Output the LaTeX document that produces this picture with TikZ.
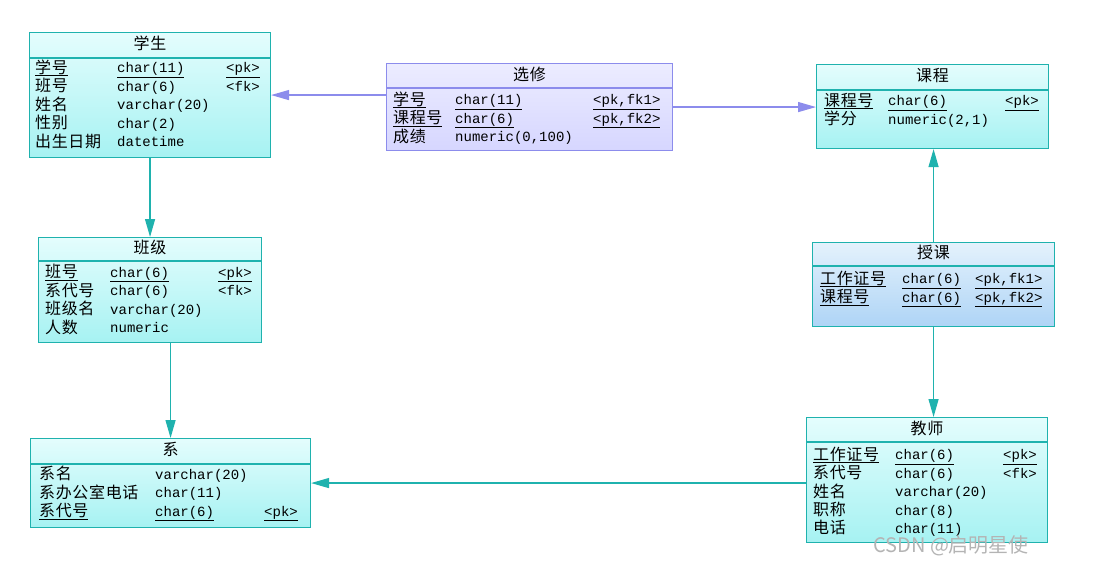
\documentclass[tikz,border=0pt]{standalone}
\usepackage{fontspec}
\setmonofont{Liberation Mono}
\newfontfamily\cjk[LetterSpace=4]{Noto Sans CJK SC}
\newfontfamily\wmfont{Noto Sans CJK SC}
\usetikzlibrary{arrows.meta}
\definecolor{tealc}{HTML}{1FB2AE}
\definecolor{cyantop}{HTML}{E4FDFD}
\definecolor{cyanbot}{HTML}{A6F2F2}
\definecolor{bluetop}{HTML}{E4F2FC}
\definecolor{bluebot}{HTML}{AED4F6}
\definecolor{purpc}{HTML}{8C8CEC}
\definecolor{purptop}{HTML}{ECECFF}
\definecolor{purpbot}{HTML}{D6D6FF}
\definecolor{wmgray}{HTML}{B4B4B4}
\tikzset{
  tbl/.style={rectangle, inner sep=0pt, anchor=north west, line width=1.1pt},
  cyantbl/.style={tbl, draw=tealc, top color=cyantop, bottom color=cyanbot},
  bluetbl/.style={tbl, draw=tealc, top color=bluetop, bottom color=bluebot},
  purptbl/.style={tbl, draw=purpc, top color=purptop, bottom color=purpbot},
  sepline/.style={line width=1.1pt},
  ttl/.style={inner sep=0pt, font={\fontsize{16}{18}\cjk}, text height=12pt, text depth=2pt},
  fname/.style={inner sep=0pt, anchor=west, font={\fontsize{16}{18}\cjk}, text height=12pt, text depth=2pt},
  ftype/.style={inner sep=0pt, anchor=west, font={\fontsize{14}{16}\ttfamily}, text height=11pt, text depth=2pt},
  tealarr/.style={draw=tealc, line width=1.3pt, -{Triangle[length=18pt, width=10pt]}, fill=tealc},
  purparr/.style={draw=purpc, line width=1.3pt, -{Triangle[length=18pt, width=10pt]}, fill=purpc},
}
\newcommand\ul[1]{\underline{#1}}
\begin{document}
\begin{tikzpicture}[x=1pt, y=-1pt]
\fill[white] (0,0) rectangle (1094,560);
\useasboundingbox (0,0) rectangle (1094,560);

% ---------- 学生 ----------
\node[cyantbl, minimum width=241pt, minimum height=125pt] (xs) at (29,32) {};
\draw[sepline, tealc] ([yshift=-26pt]xs.north west) -- ([yshift=-26pt]xs.north east);
\node[ttl] (xs-t) at ([yshift=-12pt]xs.north) {学生};
\node[fname] (xs-n1) at (35,68) {\ul{学号}};
\node[ftype] (xs-c1) at (117,68) {\ul{char(11)}};
\node[ftype] (xs-k1) at (226,68) {\ul{<pk>}};
\node[fname] (xs-n2) at (35,86.5) {班号};
\node[ftype] (xs-c2) at (117,86.5) {char(6)};
\node[ftype] (xs-k2) at (226,86.5) {<fk>};
\node[fname] (xs-n3) at (35,105) {姓名};
\node[ftype] (xs-c3) at (117,105) {varchar(20)};
\node[fname] (xs-n4) at (35,123.5) {性别};
\node[ftype] (xs-c4) at (117,123.5) {char(2)};
\node[fname] (xs-n5) at (35,142) {出生日期};
\node[ftype] (xs-c5) at (117,142) {datetime};

% ---------- 选修 ----------
\node[purptbl, minimum width=286pt, minimum height=87pt] (xx) at (386,63) {};
\draw[sepline, purpc] ([yshift=-25pt]xx.north west) -- ([yshift=-25pt]xx.north east);
\node[ttl] (xx-t) at ([yshift=-12pt]xx.north) {选修};
\node[fname] (xx-n1) at (393,100) {\ul{学号}};
\node[ftype] (xx-c1) at (455,100) {\ul{char(11)}};
\node[ftype] (xx-k1) at (593,100) {\ul{<pk,fk1>}};
\node[fname] (xx-n2) at (393,118.5) {\ul{课程号}};
\node[ftype] (xx-c2) at (455,118.5) {\ul{char(6)}};
\node[ftype] (xx-k2) at (593,118.5) {\ul{<pk,fk2>}};
\node[fname] (xx-n3) at (393,137) {成绩};
\node[ftype] (xx-c3) at (455,137) {numeric(0,100)};

% ---------- 课程 ----------
\node[cyantbl, minimum width=232pt, minimum height=84pt] (kc) at (816,64) {};
\draw[sepline, tealc] ([yshift=-26pt]kc.north west) -- ([yshift=-26pt]kc.north east);
\node[ttl] (kc-t) at ([yshift=-12pt]kc.north) {课程};
\node[fname] (kc-n1) at (824,101) {\ul{课程号}};
\node[ftype] (kc-c1) at (888,101) {\ul{char(6)}};
\node[ftype] (kc-k1) at (1005,101) {\ul{<pk>}};
\node[fname] (kc-n2) at (824,119.5) {学分};
\node[ftype] (kc-c2) at (888,119.5) {numeric(2,1)};

% ---------- 班级 ----------
\node[cyantbl, minimum width=223pt, minimum height=105pt] (bj) at (38,237) {};
\draw[sepline, tealc] ([yshift=-24pt]bj.north west) -- ([yshift=-24pt]bj.north east);
\node[ttl] (bj-t) at ([yshift=-11pt]bj.north) {班级};
\node[fname] (bj-n1) at (45,272.5) {\ul{班号}};
\node[ftype] (bj-c1) at (110,272.5) {\ul{char(6)}};
\node[ftype] (bj-k1) at (218,272.5) {\ul{<pk>}};
\node[fname] (bj-n2) at (45,291) {系代号};
\node[ftype] (bj-c2) at (110,291) {char(6)};
\node[ftype] (bj-k2) at (218,291) {<fk>};
\node[fname] (bj-n3) at (45,309.5) {班级名};
\node[ftype] (bj-c3) at (110,309.5) {varchar(20)};
\node[fname] (bj-n4) at (45,328) {人数};
\node[ftype] (bj-c4) at (110,328) {numeric};

% ---------- 授课 ----------
\node[bluetbl, minimum width=242pt, minimum height=84pt] (sk) at (812,242) {};
\draw[sepline, tealc] ([yshift=-24pt]sk.north west) -- ([yshift=-24pt]sk.north east);
\node[ttl] (sk-t) at ([yshift=-11pt]sk.north) {授课};
\node[fname] (sk-n1) at (820,279) {\ul{工作证号}};
\node[ftype] (sk-c1) at (902,279) {\ul{char(6)}};
\node[ftype] (sk-k1) at (975,279) {\ul{<pk,fk1>}};
\node[fname] (sk-n2) at (820,297.5) {\ul{课程号}};
\node[ftype] (sk-c2) at (902,297.5) {\ul{char(6)}};
\node[ftype] (sk-k2) at (975,297.5) {\ul{<pk,fk2>}};

% ---------- 系 ----------
\node[cyantbl, minimum width=280pt, minimum height=89pt] (xi) at (30,438) {};
\draw[sepline, tealc] ([yshift=-26pt]xi.north west) -- ([yshift=-26pt]xi.north east);
\node[ttl] (xi-t) at ([yshift=-12pt]xi.north) {系};
\node[fname] (xi-n1) at (39,474.5) {系名};
\node[ftype] (xi-c1) at (155,474.5) {varchar(20)};
\node[fname] (xi-n2) at (39,493) {系办公室电话};
\node[ftype] (xi-c2) at (155,493) {char(11)};
\node[fname] (xi-n3) at (39,511.5) {\ul{系代号}};
\node[ftype] (xi-c3) at (155,511.5) {\ul{char(6)}};
\node[ftype] (xi-k3) at (264,511.5) {\ul{<pk>}};

% ---------- 教师 ----------
\node[cyantbl, minimum width=241pt, minimum height=125pt] (js) at (806,417) {};
\draw[sepline, tealc] ([yshift=-25pt]js.north west) -- ([yshift=-25pt]js.north east);
\node[ttl] (js-t) at ([yshift=-12pt]js.north) {教师};
\node[fname] (js-n1) at (813,455) {\ul{工作证号}};
\node[ftype] (js-c1) at (895,455) {\ul{char(6)}};
\node[ftype] (js-k1) at (1003,455) {\ul{<pk>}};
\node[fname] (js-n2) at (813,473.5) {系代号};
\node[ftype] (js-c2) at (895,473.5) {char(6)};
\node[ftype] (js-k2) at (1003,473.5) {<fk>};
\node[fname] (js-n3) at (813,492) {姓名};
\node[ftype] (js-c3) at (895,492) {varchar(20)};
\node[fname] (js-n4) at (813,510.5) {职称};
\node[ftype] (js-c4) at (895,510.5) {char(8)};
\node[fname] (js-n5) at (813,528.5) {电话};
\node[ftype] (js-c5) at (895,528.5) {char(11)};

% ---------- connectors ----------
\draw[purparr] (xx.west |- xs.east) -- (xs.east);
\draw[purparr] (xx.east) -- (kc.west |- xx.east);
\draw[tealarr] (xs.south) -- (bj.north);
\draw[tealarr] (bj.south -| xi.north) -- (xi.north);
\draw[tealarr] (sk.north) -- (kc.south -| sk.north);
\draw[tealarr] (sk.south) -- (js.north -| sk.south);
\draw[tealarr] (js.west |- xi.east) -- (xi.east);

% ---------- watermark ----------
\node[inner sep=0pt, anchor=west, text=wmgray, font={\fontsize{20}{22}\wmfont}, text height=14pt, text depth=3pt] (wm) at (873,547) {CSDN @启明星使};
\end{tikzpicture}
\end{document}
